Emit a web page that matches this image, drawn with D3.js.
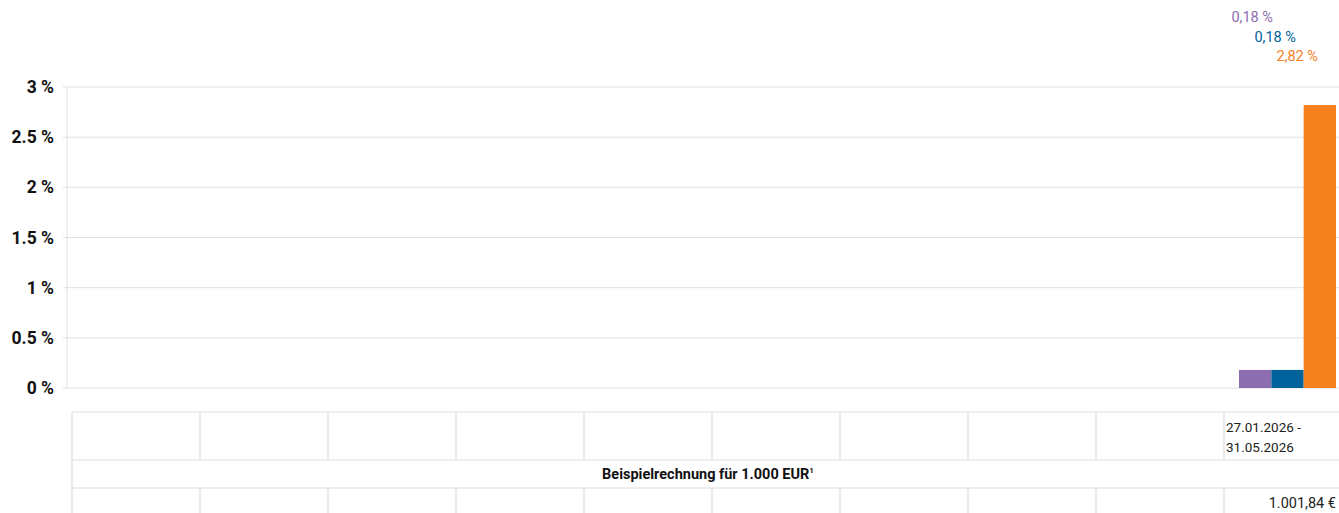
<!DOCTYPE html>
<html><head><meta charset="utf-8">
<script src="https://cdn.jsdelivr.net/npm/d3@7/dist/d3.min.js"></script>
<style>
html,body{margin:0;padding:0;background:#fff;overflow:hidden;}
svg{display:block;font-family:Roboto,"Noto Sans",sans-serif;}
</style></head><body>
<svg id="c" width="1339" height="513"></svg>
<script>
const categories = ["", "", "", "", "", "", "", "", "", "27.01.2026 - 31.05.2026"];
const seriesNames = ["A", "B", "C"];
const seriesA = [null, null, null, null, null, null, null, null, null, 0.18];
const seriesB = [null, null, null, null, null, null, null, null, null, 0.18];
const seriesC = [null, null, null, null, null, null, null, null, null, 2.82];
const yTicks = [0, 0.5, 1, 1.5, 2, 2.5, 3];
const yTickLabels = ["0 %", "0.5 %", "1 %", "1.5 %", "2 %", "2.5 %", "3 %"];
const valueLabels = ["0,18 %", "0,18 %", "2,82 %"];
const tableTitle = "Beispielrechnung für 1.000 EUR";
const tableValues = ["", "", "", "", "", "", "", "", "", "1.001,84 €"];
const colors = ["#8c6daf", "#00629a", "#f5821f"];

const svg = d3.select("#c");
const x = d3.scaleBand().domain(d3.range(categories.length)).range([72, 1352]);
const xs = d3.scaleBand().domain([0,1,2]).range([15, 112]).paddingInner(0);
const y = d3.scaleLinear().domain([0, 3]).range([388, 87]);

// grid
svg.append("g").selectAll("line").data(yTicks).join("line")
  .attr("x1", 63).attr("x2", 1339)
  .attr("y1", d => y(d)).attr("y2", d => y(d))
  .attr("stroke", "#e0e0e0").attr("stroke-width", 1);
svg.append("line").attr("x1", 67).attr("x2", 67).attr("y1", y(3)).attr("y2", y(0))
  .attr("stroke", "#e0e0e0");

// y labels
svg.append("g").selectAll("text").data(yTicks).join("text")
  .attr("x", 54).attr("y", d => y(d) + 6)
  .attr("text-anchor", "end").attr("font-size", 17.5).attr("font-weight", 700)
  .attr("fill", "#111")
  .text((d, i) => yTickLabels[i]);

// bars
const series = [seriesA, seriesB, seriesC];
series.forEach((s, si) => {
  svg.append("g").selectAll("rect").data(s.map((v, i) => ({v, i})).filter(d => d.v != null)).join("rect")
    .attr("x", d => x(d.i) + xs(si))
    .attr("width", xs.bandwidth())
    .attr("y", d => y(d.v))
    .attr("height", d => y(0) - y(d.v))
    .attr("fill", colors[si]);
});

// value labels at top
const labelRight = [1273, 1296, 1318];
const labelY = [22, 42, 61];
valueLabels.forEach((t, i) => {
  svg.append("text").attr("x", labelRight[i]).attr("y", labelY[i])
    .attr("text-anchor", "end").attr("font-size", 14.5).attr("fill", colors[i]).text(t);
});

// table
const tTop = 412, r1 = 460, r2 = 488, tBot = 513;
const tl = svg.append("g").attr("stroke", "#dedede").attr("stroke-width", 1.2);
[tTop, r1, r2].forEach(yy => tl.append("line").attr("x1", 72).attr("x2", 1352).attr("y1", yy).attr("y2", yy));
tl.append("line").attr("x1", 72).attr("x2", 72).attr("y1", tTop).attr("y2", tBot);
categories.forEach((c, i) => {
  if (i > 0) {
    tl.append("line").attr("x1", x(i)).attr("x2", x(i)).attr("y1", tTop).attr("y2", r1);
    tl.append("line").attr("x1", x(i)).attr("x2", x(i)).attr("y1", r2).attr("y2", tBot);
  }
});
categories.forEach((c, i) => {
  if (!c) return;
  const parts = c.split(" - ");
  const t = svg.append("text").attr("font-size", 13.5).attr("fill", "#222");
  t.append("tspan").attr("x", x(i) + 2).attr("y", 432).text(parts[0] + " -");
  t.append("tspan").attr("x", x(i) + 2).attr("y", 452).text(parts[1]);
});
const tt = svg.append("text").attr("x", 708).attr("y", 479).attr("text-anchor", "middle")
  .attr("font-size", 14.5).attr("font-weight", 700).attr("fill", "#111").text(tableTitle);
tt.append("tspan").attr("font-size", 8).attr("dy", -6).text("1");
tableValues.forEach((v, i) => {
  if (!v) return;
  svg.append("text").attr("x", 1336).attr("y", 508).attr("text-anchor", "end")
    .attr("font-size", 14.5).attr("fill", "#222").text(v);
});
</script></body></html>
